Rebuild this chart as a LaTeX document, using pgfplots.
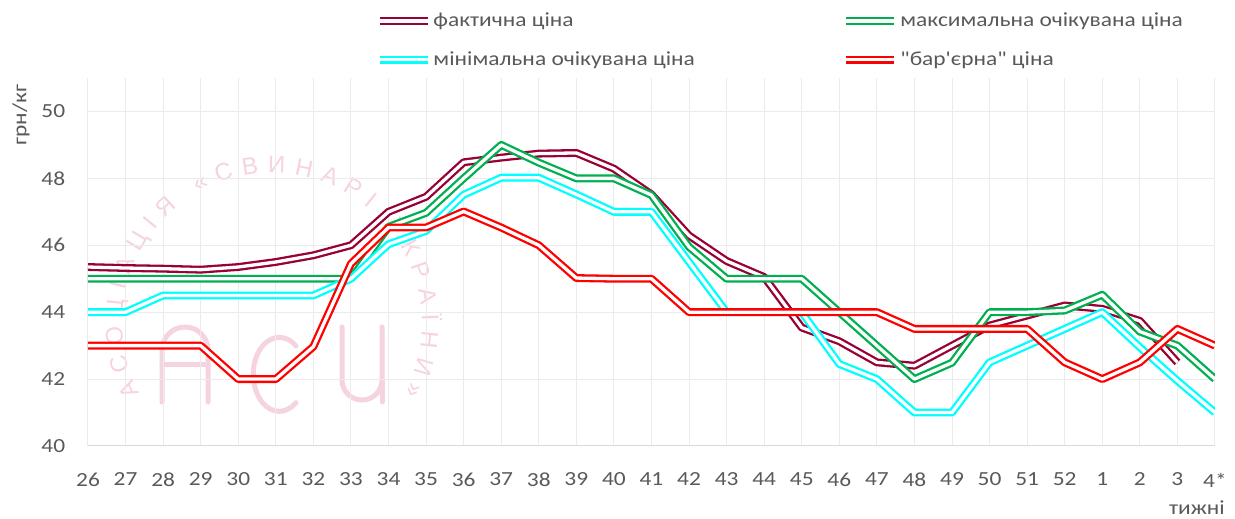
\documentclass[border=0pt]{standalone}
\usepackage{fontspec}
\setmainfont{Carlito}[Ligatures=TeXOff, FakeStretch=1.17]
\newfontfamily\wmfont{Liberation Sans}
\usepackage{pgfplots}
\pgfplotsset{compat=1.18}
\usepackage{pgfplotstable}
\usetikzlibrary{decorations.text}
\definecolor{cMar}{HTML}{990033}
\definecolor{cGrn}{HTML}{00B050}
\definecolor{cCya}{HTML}{00FFFF}
\definecolor{cRed}{HTML}{FF0000}
\definecolor{cText}{HTML}{595959}
\definecolor{cGrid}{HTML}{EBEBEB}
\definecolor{cAxis}{HTML}{D9D9D9}
\definecolor{wm}{HTML}{F5D3DF}

\pgfplotstableread{
x y
0 45.35
1 45.32
2 45.30
3 45.27
4 45.35
5 45.50
6 45.70
7 46.00
8 47.00
9 47.45
10 48.48
11 48.62
12 48.74
13 48.76
14 48.29
15 47.52
16 46.29
17 45.53
18 45.05
19 43.54
20 43.13
21 42.50
22 42.40
23 43.00
24 43.60
25 43.90
26 44.20
27 44.10
28 43.74
29 42.50
}\tFakt

\pgfplotstableread{
x y
0 45.0
1 45.0
2 45.0
3 45.0
4 45.0
5 45.0
6 45.0
7 45.0
8 46.55
9 46.97
10 48.0
11 49.0
12 48.47
13 48.0
14 48.0
15 47.5
16 45.95
17 45.0
18 45.0
19 45.0
20 44.0
21 43.0
22 42.0
23 42.49
24 44.0
25 44.0
26 44.05
27 44.52
28 43.42
29 43.0
30 42.0
}\tMax

\pgfplotstableread{
x y
0 44.0
1 44.0
2 44.5
3 44.5
4 44.5
5 44.5
6 44.5
7 45.0
8 46.03
9 46.43
10 47.51
11 48.02
12 48.02
13 47.52
14 47.0
15 47.0
16 45.5
17 44.0
18 44.0
19 44.0
20 42.45
21 42.0
22 41.0
23 41.0
24 42.5
25 43.0
26 43.5
27 44.0
28 42.95
29 41.95
30 41.0
}\tMin

\pgfplotstableread{
x y
0 43.0
1 43.0
2 43.0
3 43.0
4 42.0
5 42.0
6 42.97
7 45.45
8 46.53
9 46.53
10 47.01
11 46.53
12 46.0
13 45.02
14 45.0
15 45.0
16 44.0
17 44.0
18 44.0
19 44.0
20 44.0
21 44.0
22 43.5
23 43.5
24 43.5
25 43.5
26 42.5
27 42.0
28 42.5
29 43.5
30 43.0
}\tBar

\begin{document}
\fontsize{20}{24}\selectfont
\begin{tikzpicture}
\useasboundingbox (-88pt,-73pt) rectangle (1147pt,446pt);
% watermark (image px -> (x-88, 446-y))
\begin{scope}[draw=wm, line width=5pt, line cap=round]
  % A
  \draw (74pt,44pt) -- (74pt,96pt) arc[start angle=180, end angle=0, radius=23pt] -- (120pt,44pt);
  \draw (74pt,81pt) -- (120pt,81pt);
  % C
  \draw (208pt,100pt) arc[start angle=50, end angle=310, x radius=26pt, y radius=37pt];
  % U
  \draw (254pt,119pt) -- (254pt,66pt) arc[start angle=180, end angle=360, radius=20pt] -- (294pt,119pt);
  \draw (294pt,66pt) -- (294pt,44pt);
\end{scope}
\path[decorate, decoration={text along path, text color=wm, text align=fit to path,
  text={|\wmfont\fontsize{24}{24}\selectfont|АСОЦІАЦІЯ «СВИНАРІ УКРАЇНИ»}}]
  (184pt,123pt) ++(208:150pt) arc[start angle=208, end angle=-28, radius=150pt];
\begin{axis}[
  at={(0pt,0pt)}, anchor=south west,
  width=1127pt, height=368pt, scale only axis,
  clip mode=individual,
  xmin=0, xmax=30, ymin=40, ymax=51,
  xtick={0,...,30},
  xticklabels={26,27,28,29,30,31,32,33,34,35,36,37,38,39,40,41,42,43,44,45,46,47,48,49,50,51,52,1,2,3,4*},
  ytick={40,42,44,46,48,50},
  /pgf/number format/assume math mode=true,
  xmajorgrids, ymajorgrids,
  grid style={color=cGrid, line width=1pt},
  major tick length=0pt,
  axis x line*=bottom, axis y line*=left,
  x axis line style={draw=cAxis, line width=1pt, -},
  y axis line style={draw=none},
  tick label style={text=cText},
  xticklabel style={yshift=-20pt},
  yticklabel style={xshift=-16pt},
  legend columns=2,
  legend cell align=left,
  legend style={at={(axis description cs:0.255,1.184)}, anchor=north west,
    draw=none, fill=none, inner sep=0pt, row sep=18pt, column sep=0pt,
    text=cText},
  legend image code/.code={\draw[#1] (0pt,0pt) -- (48pt,0pt);},
  every axis plot/.append style={line width=2.3pt, double=white, double distance=3.3pt, line join=round, mark=none},
]
\addplot[color=cMar] table[x=x,y=y] {\tFakt};
\addlegendentry{\makebox[407pt][l]{фактична ціна}}
\addplot[color=cGrn] table[x=x,y=y] {\tMax};
\addlegendentry{максимальна очікувана ціна}
\addplot[color=cCya] table[x=x,y=y] {\tMin};
\addlegendentry{\makebox[407pt][l]{мінімальна очікувана ціна}}
\addplot[color=cRed] table[x=x,y=y] {\tBar};
\addlegendentry{"бар'єрна" ціна}
\node[text=cText, rotate=90] at (axis description cs:-0.0595,0.899) {грн/кг};
\node[text=cText] at (axis description cs:0.984,-0.168) {тижні};
\end{axis}
\end{tikzpicture}
\end{document}
